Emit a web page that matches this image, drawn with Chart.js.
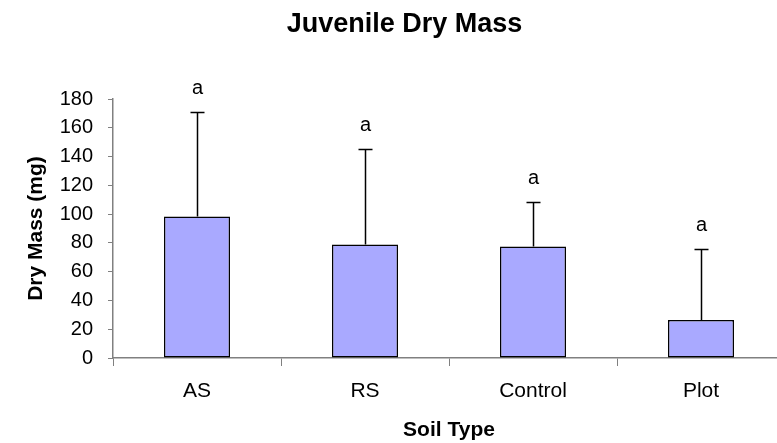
<!DOCTYPE html>
<html>
<head>
<meta charset="utf-8">
<script src="https://cdn.jsdelivr.net/npm/chart.js@4"></script>
<style>
  html, body { margin: 0; padding: 0; background: #fff; overflow: hidden; }
</style>
</head>
<body>
<canvas id="massChart" width="794" height="443"></canvas>
<script>
// Chart data
const soilTypes = ['AS', 'RS', 'Control', 'Plot'];
const meanMass = [98.3, 78.8, 77.5, 26.4];      // bar heights (mg)
const upperError = [72.7, 66.6, 30.9, 49.6];    // error bar above each bar (mg)
const groupLetters = ['a', 'a', 'a', 'a'];      // significance letters
const yTicks = [0, 20, 40, 60, 80, 100, 120, 140, 160, 180];

const FONT = 'Liberation Sans, Arial, sans-serif';

// -------------------------------
// Error bars + letters plugin
// -------------------------------
const errorBarPlugin = {
  id: 'errorBars',
  afterDatasetsDraw(chart) {
    const ctx = chart.ctx;
    const yScale = chart.scales.y;
    const meta = chart.getDatasetMeta(0);
    ctx.save();
    meta.data.forEach((bar, i) => {
      const x = Math.round(bar.x) + 0.5;
      const yBase = yScale.getPixelForValue(meanMass[i]);
      const yTop = Math.round(yScale.getPixelForValue(meanMass[i] + upperError[i])) + 0.5;
      ctx.strokeStyle = '#000';
      ctx.lineWidth = 1.5;
      ctx.beginPath();
      ctx.moveTo(x, yBase);
      ctx.lineTo(x, yTop);
      ctx.moveTo(x - 7, yTop);
      ctx.lineTo(x + 7, yTop);
      ctx.stroke();

      ctx.fillStyle = '#000';
      ctx.font = '20px ' + FONT;
      ctx.textAlign = 'center';
      ctx.textBaseline = 'alphabetic';
      ctx.fillText(groupLetters[i], x, yTop - 19);
    });
    ctx.restore();
  }
};

new Chart(document.getElementById('massChart'), {
  type: 'bar',
  data: {
    labels: soilTypes,
    datasets: [{
      data: meanMass,
      backgroundColor: '#a9a9ff',
      borderColor: '#000',
      borderWidth: 1.5,
      borderSkipped: false,
      categoryPercentage: 1,
      barPercentage: 0.393
    }]
  },
  options: {
    responsive: false,
    animation: false,
    events: [],
    layout: { padding: { left: 24, right: 9, top: 0, bottom: 0 } },
    plugins: {
      legend: { display: false },
      tooltip: { enabled: false },
      title: {
        display: true,
        text: 'Juvenile Dry Mass',
        color: '#000',
        font: { family: FONT, size: 27, weight: 'bold' },
        padding: { top: 8.8, bottom: 57.8 }
      }
    },
    scales: {
      x: {
        offset: true,
        grid: {
          offset: true,
          drawOnChartArea: false,
          drawTicks: true,
          tickLength: 8,
          color: '#808080'
        },
        border: { color: '#808080', width: 1.5 },
        ticks: {
          color: '#000',
          font: { family: FONT, size: 21 },
          padding: 13,
          maxRotation: 0
        },
        title: {
          display: true,
          text: 'Soil Type',
          color: '#000',
          font: { family: FONT, size: 21, weight: 'bold' },
          padding: 0
        },
        afterFit(scale) { scale.height = 443 - 358; }
      },
      y: {
        min: 0,
        max: 180,
        afterBuildTicks(scale) { scale.ticks = yTicks.map(v => ({ value: v })); },
        grid: {
          drawOnChartArea: false,
          drawTicks: true,
          tickLength: 5,
          color: '#808080'
        },
        border: { color: '#808080', width: 1.5 },
        ticks: {
          color: '#000',
          font: { family: FONT, size: 20 },
          padding: 15
        },
        title: {
          display: true,
          text: 'Dry Mass (mg)',
          color: '#000',
          font: { family: FONT, size: 21, weight: 'bold' },
          padding: 0
        },
        afterFit(scale) { scale.width = 113 - 24; }
      }
    }
  },
  plugins: [errorBarPlugin]
});
</script>
</body>
</html>
